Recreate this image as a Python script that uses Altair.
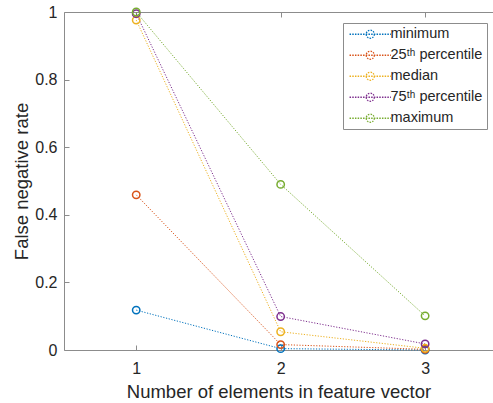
import altair as alt
import pandas as pd

# ---- data ----
x_vals = [1, 2, 3]
series_names = ["minimum", "25ᵗʰ percentile", "median", "75ᵗʰ percentile", "maximum"]
minimum = [0.118, 0.004, 0.0]
p25 = [0.459, 0.016, 0.002]
median = [0.976, 0.054, 0.005]
p75 = [0.995, 0.099, 0.018]
maximum = [1.0, 0.49, 0.101]
colors = ["#0072BD", "#D95319", "#EDB120", "#7E2F8E", "#77AC30"]
x_ticks = [1, 2, 3]
y_ticks = [0, 0.2, 0.4, 0.6, 0.8, 1]

rows = []
for name, vals in zip(series_names, [minimum, p25, median, p75, maximum]):
    for xv, v in zip(x_vals, vals):
        rows.append({"n": xv, "rate": v, "series": name})
df = pd.DataFrame(rows)

FONT = "Liberation Sans"
TXT = "#262626"
AX = "#8c8c8c"

xscale = alt.Scale(domain=[0.5, 3.47], nice=False, zero=False)
yscale = alt.Scale(domain=[0, 1], nice=False, zero=False)

legend = alt.Legend(
    title=None, orient="none", legendX=279, legendY=11,
    padding=4, strokeColor=AX, fillColor="white", cornerRadius=0,
    labelFont=FONT, labelFontSize=14.5, labelColor=TXT,
    symbolType="M-4.6,0H4.6M0.9,0A0.9,0.9 0 1,1 -0.9,0A0.9,0.9 0 1,1 0.9,0",
    symbolSize=81, symbolStrokeWidth=1.3, symbolFillColor="transparent",
    symbolDash=[1.5, 1.2], symbolOffset=16, labelOffset=13, rowPadding=6,
)
color_scale = alt.Scale(domain=series_names, range=colors)

main_x = alt.Axis(values=x_ticks, format="d", title="Number of elements in feature vector",
                  grid=False, ticks=False, domain=True, domainColor=AX, domainWidth=1,
                  labelFont=FONT, labelFontSize=16, labelColor=TXT, labelPadding=10,
                  titleFont=FONT, titleFontSize=18.5, titleColor=TXT, titleFontWeight="normal",
                  titlePadding=6)
main_y = alt.Axis(values=y_ticks, format="~g", title="False negative rate",
                  grid=False, ticks=False, domain=True, domainColor=AX, domainWidth=1,
                  labelFont=FONT, labelFontSize=16, labelColor=TXT, labelPadding=7,
                  titleFont=FONT, titleFontSize=18.5, titleColor=TXT, titleFontWeight="normal",
                  titlePadding=3)
top_domain = alt.Axis(orient="top", values=x_ticks, title=None, labels=False, ticks=False,
                      grid=False, domain=True, domainColor=AX, domainWidth=1)
top_ticks = alt.Axis(orient="top", values=x_ticks, title=None, labels=False, ticks=True,
                     tickSize=5, offset=-5, tickColor=AX, grid=False, domain=False)
bottom_ticks = alt.Axis(orient="bottom", values=x_ticks, title=None, labels=False, ticks=True,
                        tickSize=5, offset=-5, tickColor=AX, grid=False, domain=False)
left_ticks = alt.Axis(orient="left", values=y_ticks, title=None, labels=False, ticks=True,
                      tickSize=5, offset=-5, tickColor=AX, grid=False, domain=False)

base = alt.Chart(df)

lines = base.mark_line(strokeWidth=1.0, strokeDash=[1.2, 1.6]).encode(
    x=alt.X("n:Q", scale=xscale, axis=main_x),
    y=alt.Y("rate:Q", scale=yscale, axis=main_y),
    color=alt.Color("series:N", scale=color_scale, legend=legend),
)
points = base.mark_point(shape="circle", filled=False, size=55, strokeWidth=1.5, opacity=1).encode(
    x=alt.X("n:Q", scale=xscale, axis=top_domain),
    y=alt.Y("rate:Q", scale=yscale, axis=left_ticks),
    color=alt.Color("series:N", scale=color_scale, legend=legend),
)
inv1 = base.mark_point(opacity=0).encode(
    x=alt.X("n:Q", scale=xscale, axis=bottom_ticks),
    y=alt.Y("rate:Q", scale=yscale, axis=None),
)
inv2 = base.mark_point(opacity=0).encode(
    x=alt.X("n:Q", scale=xscale, axis=top_ticks),
    y=alt.Y("rate:Q", scale=yscale, axis=None),
)

chart = alt.layer(lines, points, inv1, inv2).resolve_axis(
    x="independent", y="independent"
).properties(
    width=429, height=338,
    autosize=alt.AutoSizeParams(type="none"),
    padding={"left": 64, "top": 12, "right": 0, "bottom": 53},
    background="white",
).configure_view(stroke=None)

chart.save("out.html", embed_options={"renderer": "svg", "actions": False})
